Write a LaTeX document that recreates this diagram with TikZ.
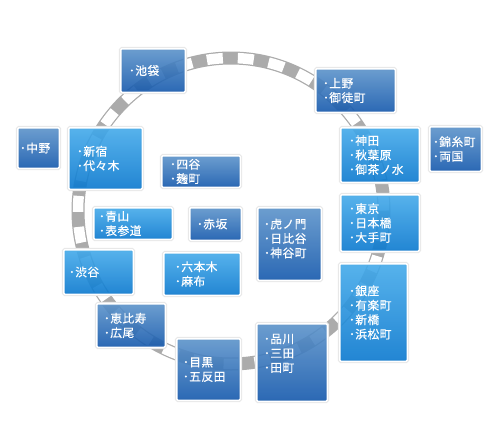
\documentclass[tikz,border=0pt]{standalone}
\usepackage{fontspec}
\newfontfamily\cjk[FakeBold=0.5, LetterSpace=4]{Noto Sans CJK JP}
\def\px{0.853pt}
\definecolor{darkT}{RGB}{92,147,202}
\definecolor{darkM}{RGB}{62,132,194}
\definecolor{darkB}{RGB}{20,88,172}
\definecolor{lightT}{RGB}{68,170,234}
\definecolor{lightM}{RGB}{24,178,246}
\definecolor{lightB}{RGB}{10,120,206}
\tikzset{
  ringrail/.style={line width=13*\px, color=black!33},
  ringtie/.style={line width=10.5*\px, color=white, dash pattern=on 13.65pt off 12.8pt, dash phase=13.9pt},
  stopbox/.style n args={3}{draw=white, line width=1.5*\px, rounded corners=1pt, fill opacity=0.9, text opacity=1,
    text=white, align=left, font=\cjk\fontsize{10}{12.3}\selectfont, inner ysep=0pt, outer sep=0pt,
    preaction={draw=black!9, line width=3.6*\px},
    text width=(#1-2*#3)*\px, inner xsep=(#3-.75)*\px, minimum height=(#2-1.5)*\px},
  darkbox/.style={top color=darkT, middle color=darkM, bottom color=darkB},
  lightbox/.style={top color=lightT, middle color=lightM, bottom color=lightB},
}
\begin{document}
\begin{tikzpicture}[x=\px, y=-\px]
  \useasboundingbox (0,0) rectangle (500,442);
  \coordinate (ringc) at (231,211);
  \draw[ringrail] (ringc) circle[radius=153];
  \draw[ringtie] (ringc) circle[radius=153];
  % dark boxes
  \node[stopbox={66}{45}{9}, darkbox] (n1) at (153,70.5) {･池袋};
  \node[stopbox={43}{42}{3}, darkbox] (n2) at (38.5,148) {･中野};
  \node[stopbox={80}{33}{9}, darkbox] (n3) at (201,171.5) {･四谷\\･麹町};
  \node[stopbox={53}{34}{8}, darkbox] (n4) at (215.5,224) {･赤坂};
  \node[stopbox={81}{45}{8}, darkbox] (n5) at (355.5,90.5) {･上野\\･御徒町};
  \node[stopbox={53}{46}{4}, darkbox] (n6) at (455.5,149) {･錦糸町\\･両国};
  \node[stopbox={65}{74}{7}, darkbox] (n7) at (289.5,244) {･虎ノ門\\･日比谷\\･神谷町\\[-2pt]~};
  \node[stopbox={70}{45}{8}, darkbox] (n8) at (131,325.5) {･恵比寿\\･広尾};
  \node[stopbox={65}{63}{7}, darkbox] (n9) at (208.5,369.5) {･目黒\\･五反田};
  \node[stopbox={72}{79}{8}, darkbox] (n10) at (292,362.5) {･品川\\･三田\\･田町\\[4pt]~};
  % light boxes
  \node[stopbox={75}{63}{9}, lightbox] (l1) at (105.5,158.5) {･新宿\\･代々木};
  \node[stopbox={80}{33}{6}, lightbox] (l2) at (133,223.5) {･青山\\･表参道};
  \node[stopbox={80}{56}{9}, lightbox] (l3) at (380,155) {･神田\\･秋葉原\\･御茶ノ水};
  \node[stopbox={80}{58}{9}, lightbox] (l4) at (380,223) {･東京\\･日本橋\\･大手町};
  \node[stopbox={71}{46}{6}, lightbox] (l5) at (98.5,272) {･渋谷};
  \node[stopbox={78}{44}{12}, lightbox] (l6) at (202,274) {･六本木\\･麻布};
  \node[stopbox={69}{99}{10}, lightbox] (l7) at (373.5,312.5) {･銀座\\･有楽町\\･新橋\\･浜松町};
\end{tikzpicture}
\end{document}
